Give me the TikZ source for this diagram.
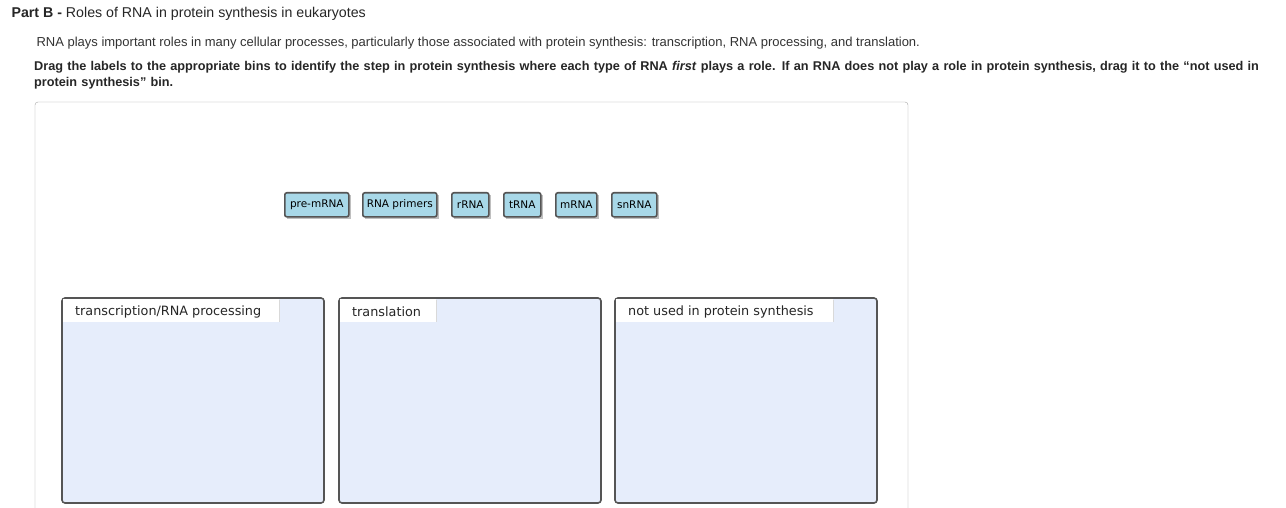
\documentclass[tikz,border=0pt]{standalone}
\usepackage{fontspec}
\setmainfont{Liberation Sans}
\newfontfamily\vfont{DejaVu Sans}
\definecolor{chip}{HTML}{A8D8E8}
\definecolor{binfill}{HTML}{E6EDFB}
\definecolor{bord}{HTML}{555555}
\begin{document}
\begin{tikzpicture}[x=1pt,y=-1pt,
 chipbox/.style={draw=bord,line width=1.6pt,fill=chip,rounded corners=2pt,inner sep=0pt,font=\vfont\fontsize{10.5}{12}\selectfont,text=black,anchor=north west},
 bin/.style={draw=bord,line width=1.6pt,fill=binfill,rounded corners=3pt},
 tab/.style={fill=white,draw=none,inner sep=0pt,font=\vfont\fontsize{12.8}{14}\selectfont,text=black!85}]
\useasboundingbox (0,0) rectangle (1286,508);
\fill[white] (0,0) rectangle (1286,508);
\node[anchor=west,font=\fontsize{14.2}{16}\selectfont,text=black!85] (title) at (8,14) {\textbf{Part B -} Roles of RNA in protein synthesis in eukaryotes};
\node[anchor=west,font=\fontsize{13}{15}\selectfont,text=black!80] (intro) at (33,43) {RNA plays important roles in many cellular processes, particularly those associated with protein synthesis: transcription, RNA processing, and translation.};
\node[anchor=north west,inner sep=0pt,font=\bfseries\fontsize{12.7}{16}\selectfont,text=black!85,align=left,text width=1252] (instr) at (34,61) {Drag the labels to the appropriate bins to identify the step in protein synthesis where each type of RNA \textit{first} plays a role. If an RNA does not play a role in protein synthesis, drag it to the ``not used in protein synthesis'' bin.};
\draw[black!35,rounded corners=3pt] (35,520) -- (35,102) -- (908,102) -- (908,520);
\foreach \n/\x/\w/\t in {c1/284/64/pre-mRNA,c2/362/74/RNA primers,c3/451/37/rRNA,c4/503/37/tRNA,c5/555/41/mRNA,c6/611/45/snRNA}{
 \fill[black!25] (\x+3,195) rectangle (\x+\w+3,219);
 \node[chipbox,minimum width=\w,minimum height=24] (\n) at (\x,192) {\t};
}
\foreach \n/\x/\tw/\t in {b1/62/217/{transcription/RNA processing},b2/339/97/translation,b3/615/218/not used in protein synthesis}{
 \draw[bin] (\x,298) rectangle (\x+262,503);
 \fill[white] (\x+1,299) rectangle (\x+\tw,322);
 \draw[black!15] (\x+\tw,300) -- (\x+\tw,322);
 \node[tab,anchor=west] (\n) at (\x+13,312) {\t};
}
\end{tikzpicture}
\end{document}
